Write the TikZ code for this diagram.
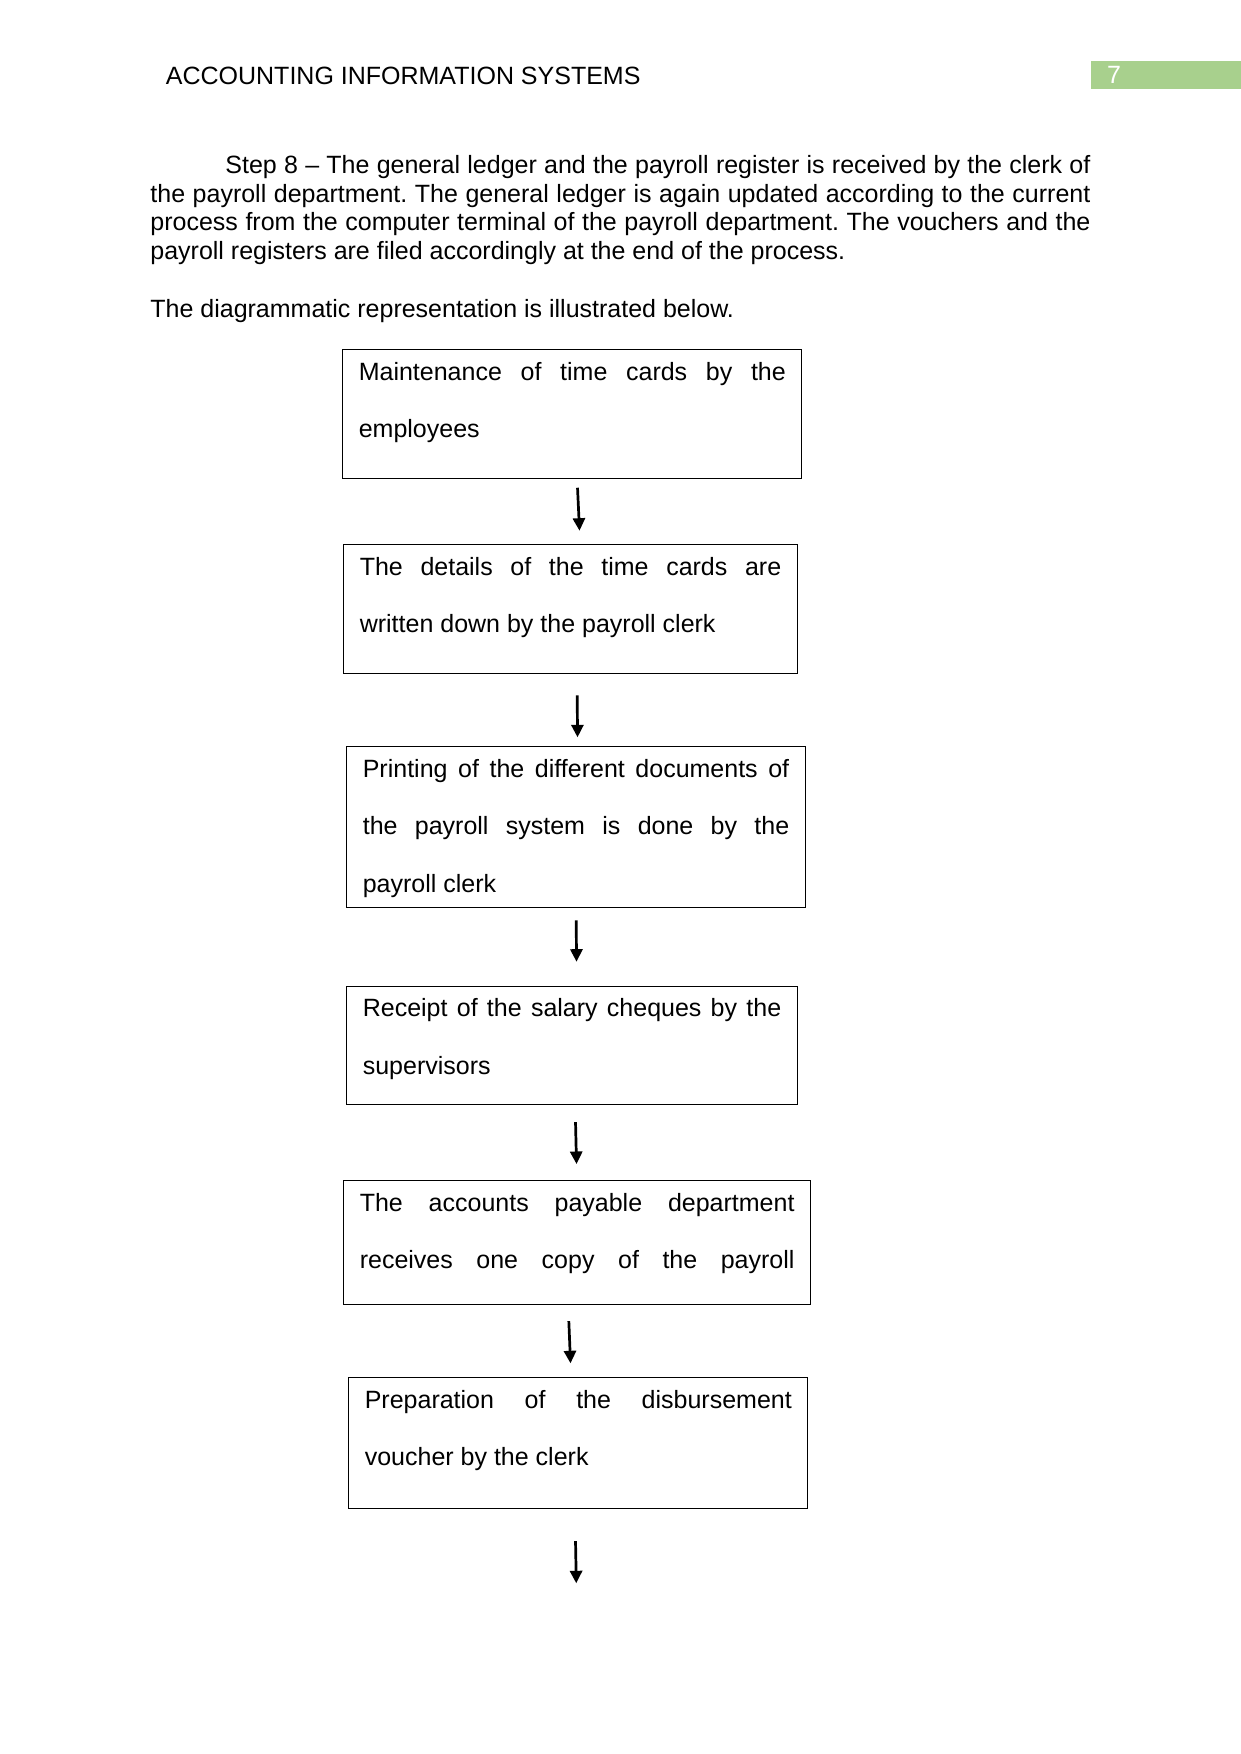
\documentclass[tikz,border=0pt]{standalone}
\usepackage{fontspec}
\setmainfont{Liberation Sans}
\usepackage{xcolor}
\usetikzlibrary{arrows.meta,calc}
\definecolor{pagegreen}{RGB}{168,208,141}
\newlength\pxu
\setlength\pxu{0.48pt}
\hyphenpenalty=10000
\exhyphenpenalty=10000
\frenchspacing

\begin{document}
\begin{tikzpicture}[
  x=\pxu,y=-\pxu,
  stage/.style={draw,rectangle,anchor=north west,line width=0.5pt,
                inner xsep=16\pxu,inner ysep=0pt,align=justify,
                text height=30.5\pxu,font=\fontsize{12pt}{27.55pt}\selectfont},
  body/.style={anchor=base west,inner sep=0pt,align=justify,
               font=\fontsize{12pt}{13.78pt}\selectfont},
  arr/.style={-{Triangle[length=6pt,width=5.8pt]},line width=1.3pt}
]
\useasboundingbox (0,0) rectangle (1241,1754);
% Running head
\node[body,align=left] (head) at (165.5,84.5) {ACCOUNTING INFORMATION SYSTEMS};
\node[fill=pagegreen,anchor=north west,inner xsep=16\pxu,inner ysep=0pt,
  text width=118.3\pxu,align=left,text height=22.3\pxu,text depth=5.7\pxu,
  text=white,font=\fontsize{12pt}{13.78pt}\selectfont] (page) at (1090.7,61) {7};
% Step 8 text
\node[body,text width=940\pxu] (step) at (150,173.5)
  {\hspace*{75\pxu}Step 8 – The general ledger and the payroll register is received by the clerk of\linebreak
   the payroll department. The general ledger is again updated according to the current\linebreak
   process from the computer terminal of the payroll department. The vouchers and the\linebreak
   payroll registers are filed accordingly at the end of the process.};
\node[body,text width=940\pxu] (lead) at (150,317.5)
  {The diagrammatic representation is illustrated below.};
% Time cards
\node[stage,text width=427\pxu,text depth=98.5\pxu] (b1) at (342.3,349.3)
  {Maintenance of time cards by the\linebreak employees};
% Details written down
\node[stage,text width=421.4\pxu,text depth=97.9\pxu] (b2) at (343.3,544.3)
  {The details of the time cards are\linebreak written down by the payroll clerk};
% Printing
\node[stage,text width=426.4\pxu,text depth=130.2\pxu] (b3) at (346.3,746.3)
  {Printing of the different documents of\linebreak the payroll system is done by the\linebreak payroll clerk};
% Salary cheques
\node[stage,text width=418.4\pxu,text depth=87.8\pxu] (b4) at (346.3,985.7)
  {Receipt of the salary cheques by the\linebreak supervisors};
% Accounts payable
\node[stage,text width=434.7\pxu,text depth=93.2\pxu] (b5) at (343.3,1180.3)
  {The accounts payable department\linebreak receives one copy of the payroll\linebreak};
% Disbursement voucher
\node[stage,text width=427\pxu,text depth=100.9\pxu] (b6) at (348.3,1377)
  {Preparation of the disbursement\linebreak voucher by the clerk};
\coordinate (tail) at (576.3,1583.3);
% Arrows
\draw[arr] ($(b1.south)+(5.2,8.4)$) -- ($(b2.north)+(9,-13.6)$);
\draw[arr] ($(b2.south)+(6.7,21.6)$) -- ($(b3.north)+(1.5,-9)$);
\draw[arr] ($(b3.south)+(0.2,12.3)$) -- ($(b4.north)+(4.5,-24)$);
\draw[arr] ($(b4.south)+(3.5,17)$) -- ($(b5.north)+(-0.65,-16.3)$);
\draw[arr] ($(b5.south)+(-8.35,16)$) -- ($(b6.north)+(-7.8,-13.7)$);
\draw[arr] ($(b6.south)+(-2.8,31.6)$) -- (tail);
\end{tikzpicture}
\end{document}
